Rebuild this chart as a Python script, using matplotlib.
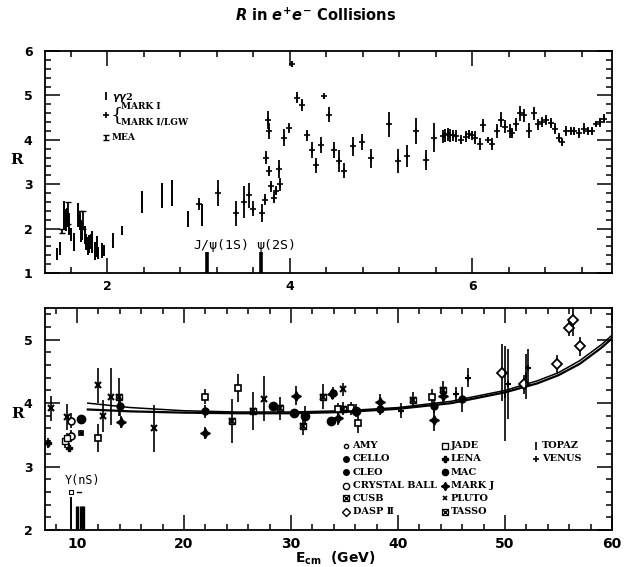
import matplotlib
matplotlib.use("Agg")
import matplotlib.pyplot as plt
from matplotlib.ticker import MultipleLocator, FixedLocator

plt.rcParams['font.weight'] = 'bold'
plt.rcParams['mathtext.fontset'] = 'custom'
plt.rcParams['mathtext.it'] = 'DejaVu Sans:italic:bold'
plt.rcParams['mathtext.rm'] = 'DejaVu Sans:bold'
plt.rcParams['mathtext.bf'] = 'DejaVu Sans:bold'

# ---------------- top panel data (E_cm in GeV, R, error) ----------------
gg2 = [(1.45, 1.43, 0.14), (1.48, 1.55, 0.15), (1.53, 2.30, 0.32), (1.55, 2.20, 0.25),
       (1.56, 2.25, 0.22), (1.58, 2.10, 0.25), (1.60, 1.90, 0.12), (1.61, 1.85, 0.12),
       (1.64, 1.70, 0.20), (1.68, 2.30, 0.27), (1.70, 2.15, 0.18), (1.71, 1.95, 0.25),
       (1.73, 1.95, 0.20), (1.76, 1.85, 0.20), (1.77, 1.70, 0.18), (1.79, 1.60, 0.20),
       (1.80, 1.65, 0.20), (1.82, 1.70, 0.17), (1.84, 1.70, 0.25), (1.87, 1.50, 0.20),
       (1.89, 1.60, 0.23), (1.90, 1.45, 0.13), (1.94, 1.50, 0.17), (1.97, 1.50, 0.12),
       (2.06, 1.73, 0.17), (2.16, 1.95, 0.10), (2.38, 2.60, 0.24), (2.60, 2.75, 0.28),
       (2.71, 2.80, 0.30), (2.89, 2.22, 0.18), (3.04, 2.30, 0.25)]
mea = [(1.51, 1.95, 0.05), (1.57, 2.35, 0.25), (1.70, 2.25, 0.15), (1.74, 2.20, 0.20)]
mark1 = [(3.01, 2.55, 0.13), (3.21, 2.80, 0.30), (3.41, 2.35, 0.28), (3.50, 2.60, 0.35),
         (3.55, 2.75, 0.28), (3.60, 2.45, 0.17), (3.70, 2.35, 0.20), (3.73, 2.65, 0.12),
         (3.74, 3.60, 0.15), (3.76, 4.45, 0.20), (3.77, 4.20, 0.18), (3.77, 3.30, 0.12),
         (3.80, 2.95, 0.12), (3.83, 2.70, 0.12), (3.85, 2.85, 0.10), (3.88, 3.35, 0.20),
         (3.89, 3.00, 0.15), (3.94, 4.05, 0.20), (3.99, 4.27, 0.12), (4.03, 5.70, 0.07),
         (4.08, 4.95, 0.13), (4.13, 4.78, 0.13), (4.19, 4.10, 0.13), (4.24, 3.77, 0.17),
         (4.29, 3.43, 0.17), (4.34, 3.88, 0.18), (4.38, 4.98, 0.05), (4.43, 4.57, 0.17),
         (4.49, 3.77, 0.17), (4.54, 3.52, 0.25), (4.59, 3.30, 0.17), (4.69, 3.85, 0.22),
         (4.79, 3.95, 0.17), (4.89, 3.58, 0.22), (5.09, 4.35, 0.28), (5.19, 3.52, 0.27),
         (5.29, 3.63, 0.25), (5.38, 4.20, 0.30), (5.49, 3.55, 0.23), (5.58, 4.05, 0.33),
         (5.68, 4.08, 0.15), (5.70, 4.10, 0.15), (5.73, 4.12, 0.15), (5.76, 4.10, 0.15),
         (5.79, 4.10, 0.13), (5.82, 4.08, 0.13), (5.88, 4.00, 0.10), (5.93, 4.07, 0.12),
         (5.97, 4.12, 0.10), (6.00, 4.10, 0.10), (6.03, 4.05, 0.15), (6.08, 3.90, 0.13),
         (6.12, 4.33, 0.15), (6.17, 4.00, 0.07), (6.22, 3.90, 0.13), (6.27, 4.20, 0.15),
         (6.32, 4.45, 0.17), (6.36, 4.30, 0.15), (6.41, 4.20, 0.15), (6.44, 4.15, 0.12),
         (6.48, 4.35, 0.15), (6.52, 4.60, 0.17), (6.57, 4.55, 0.15), (6.62, 4.20, 0.17),
         (6.68, 4.60, 0.15), (6.72, 4.35, 0.13), (6.76, 4.40, 0.12), (6.81, 4.45, 0.12),
         (6.86, 4.38, 0.12), (6.91, 4.25, 0.12), (6.95, 4.05, 0.10), (6.98, 3.95, 0.10),
         (7.03, 4.20, 0.12), (7.08, 4.20, 0.10), (7.12, 4.20, 0.10), (7.17, 4.15, 0.12),
         (7.22, 4.25, 0.12), (7.27, 4.20, 0.10), (7.31, 4.20, 0.10), (7.36, 4.35, 0.07),
         (7.40, 4.40, 0.10), (7.44, 4.48, 0.10)]
resonances_top = [("J/\u03c8(1S)", 3.097), ("\u03c8(2S)", 3.686)]

# ---------------- bottom panel data ----------------
amy = [(49.7, 4.48, 0.45), (51.8, 4.30, 0.15), (54.9, 4.61, 0.15), (56.0, 5.18, 0.12),
       (56.4, 5.31, 0.25), (57.0, 4.90, 0.15)]
cello = [(14.0, 3.95, 0.15), (22.0, 3.87, 0.10), (33.9, 4.16, 0.10), (38.3, 3.90, 0.08),
         (43.4, 3.95, 0.10), (46.0, 4.06, 0.20)]
cleo = [(10.35, 3.75, 0.05)]
crystal_ball = [(9.4, 3.72, 0.12), (9.4, 3.48, 0.10)]
cusb = [(10.4, 3.53, 0.04)]
dasp = [(8.85, 3.40, 0.10), (9.1, 3.45, 0.08)]
jade = [(12.0, 3.45, 0.22), (22.0, 4.10, 0.12), (25.0, 4.24, 0.22), (34.4, 3.90, 0.10),
        (35.6, 3.92, 0.10), (36.3, 3.68, 0.15), (43.2, 4.10, 0.12)]
lena = [(7.3, 3.37, 0.08), (9.2, 3.30, 0.07)]
mac = [(28.3, 3.95, 0.05), (30.3, 3.84, 0.07), (33.7, 3.72, 0.05), (36.1, 3.88, 0.10),
       (31.3, 3.80, 0.15)]
markj = [(14.1, 3.70, 0.10), (22.0, 3.53, 0.10), (30.5, 4.12, 0.15), (33.8, 4.14, 0.08),
         (34.4, 3.76, 0.10), (38.3, 4.02, 0.13), (43.4, 3.74, 0.18), (44.2, 4.12, 0.12)]
pluto = [(7.6, 3.92, 0.20), (9.1, 3.78, 0.20), (12.45, 3.80, 0.25), (13.15, 4.10, 0.45),
         (17.2, 3.60, 0.37), (27.5, 4.07, 0.35), (34.9, 4.22, 0.10), (12.0, 4.28, 0.28)]
tasso = [(13.9, 4.10, 0.30), (24.5, 3.72, 0.35), (26.4, 3.88, 0.30), (29.0, 3.92, 0.18),
         (31.1, 3.64, 0.15), (33.0, 4.10, 0.20), (34.9, 3.91, 0.10), (41.4, 4.05, 0.12),
         (44.2, 4.20, 0.15)]
topaz = [(50.0, 4.15, 0.75), (52.0, 4.42, 0.35)]
venus = [(40.3, 3.88, 0.12), (45.4, 4.14, 0.12), (46.5, 4.40, 0.15), (50.3, 4.30, 0.55),
         (52.2, 4.55, 0.30)]

# QCD + electroweak prediction band
curve_x = [11, 15, 20, 25, 30, 35, 40, 45, 50, 53, 55, 57, 59, 60]
curve_hi = [4.00, 3.93, 3.88, 3.86, 3.86, 3.88, 3.93, 4.03, 4.20, 4.35, 4.48, 4.67, 4.92, 5.07]
curve_lo = [3.90, 3.87, 3.85, 3.84, 3.84, 3.86, 3.91, 4.00, 4.17, 4.31, 4.44, 4.62, 4.87, 5.02]

upsilon_x = [9.46, 10.02, 10.36, 10.58]
upsilon_top = [2.52, 2.38, 2.38, 2.38]

legend_cols = [["AMY", "CELLO", "CLEO", "CRYSTAL BALL", "CUSB", "DASP \u2161"],
               ["JADE", "LENA", "MAC", "MARK J", "PLUTO", "TASSO"],
               ["TOPAZ", "VENUS"]]

# ---------------- figure ----------------
fig = plt.figure(figsize=(6.32, 5.67), dpi=100)
ax1 = fig.add_axes([0.0712, 0.5185, 0.897, 0.3915])
ax2 = fig.add_axes([0.0712, 0.0653, 0.897, 0.3915])

for ax in (ax1, ax2):
    ax.tick_params(which='both', direction='in', top=True, right=True, width=1.1,
                   labelsize=9)
    ax.tick_params(which='major', length=11)
    ax.tick_params(which='minor', length=4)
    ax.tick_params(axis='y', pad=9)
    ax.tick_params(axis='x', pad=5)
    for s in ax.spines.values():
        s.set_linewidth(1.3)


def unpack(d):
    return [p[0] for p in d], [p[1] for p in d], [p[2] for p in d]


# top panel
x, r, e = unpack(gg2)
ax1.errorbar(x, r, yerr=e, fmt='none', ecolor='black', elinewidth=1.4)
x, r, e = unpack(mea)
ax1.errorbar(x, r, yerr=e, fmt='none', ecolor='black', elinewidth=1.3, capsize=2, capthick=1)
x, r, e = unpack(mark1)
ax1.errorbar(x, r, yerr=e, fmt='+', color='black', ms=4, mew=1.2, elinewidth=1.3)

for name, xr in resonances_top:
    ax1.vlines(xr, 1.0, 1.47, color='black', lw=2.6)
ax1.text(3.25, 1.62, "J/\u03c8(1S)", family='DejaVu Sans Mono', fontsize=9.5,
         fontweight='normal', ha='center', va='center')
ax1.text(3.85, 1.62, "\u03c8(2S)", family='DejaVu Sans Mono', fontsize=9.5,
         fontweight='normal', ha='center', va='center')

# top legend
ax1.plot([1.99], [4.98], marker='|', color='black', ms=6, mew=1.3)
ax1.text(2.05, 4.96, r"$\gamma\gamma$2", fontsize=7, family='DejaVu Serif', va='center')
ax1.plot([1.99], [4.56], marker='+', color='black', ms=4, mew=1.2)
ax1.text(2.04, 4.56, "{", fontsize=14, family='DejaVu Serif', fontweight='normal',
         va='center', ha='left')
ax1.text(2.15, 4.75, "MARK I", fontsize=6.5, family='DejaVu Serif', va='center')
ax1.text(2.15, 4.41, "MARK I/LGW", fontsize=6.5, family='DejaVu Serif', va='center')
ax1.errorbar([1.99], [4.05], yerr=[0.05], fmt='none', ecolor='black', elinewidth=1.2,
             capsize=2, capthick=1)
ax1.text(2.05, 4.05, "MEA", fontsize=6.5, family='DejaVu Serif', va='center')

ax1.set_xlim(1.32, 7.53)
ax1.set_ylim(1, 6)
ax1.xaxis.set_major_locator(FixedLocator([2, 4, 6]))
ax1.xaxis.set_minor_locator(MultipleLocator(0.4))
ax1.yaxis.set_major_locator(MultipleLocator(1))
ax1.yaxis.set_minor_locator(MultipleLocator(0.2))

# bottom panel
ax2.plot(curve_x, curve_hi, color='black', lw=1.1)
ax2.plot(curve_x, curve_lo, color='black', lw=1.6)

tasso_style = [dict(marker='s', ms=5, mfc='none', mec='black', mew=1.0),
               dict(marker='x', ms=5, mew=1.3, color='black')]
styles = {
    'amy': (amy, [dict(marker='D', ms=5, mfc='white', mec='black', mew=1.3)]),
    'cello': (cello, [dict(marker='o', ms=5, mfc='black', mec='black')]),
    'cleo': (cleo, [dict(marker='o', ms=6, mfc='black', mec='black')]),
    'crystal': (crystal_ball, [dict(marker='o', ms=5, mfc='white', mec='black', mew=1.2)]),
    'cusb': (cusb, [dict(marker='s', ms=3.5, mfc='white', mec='black', mew=1.2),
                    dict(marker='x', ms=3.5, mew=1.0, color='black')]),
    'dasp': (dasp, [dict(marker='s', ms=4, mfc='white', mec='black', mew=1.0)]),
    'jade': (jade, [dict(marker='s', ms=5, mfc='white', mec='black', mew=1.2)]),
    'lena': (lena, [dict(marker='P', ms=5, mfc='black', mec='black')]),
    'mac': (mac, [dict(marker='o', ms=6, mfc='black', mec='black')]),
    'markj': (markj, [dict(marker=(4, 1, 0), ms=7, mfc='black', mec='black')]),
    'pluto': (pluto, [dict(marker='x', ms=4, mew=1.5, color='black')]),
    'tasso': (tasso, tasso_style),
    'topaz': (topaz, [dict(marker='|', ms=6, mew=1.5, color='black')]),
    'venus': (venus, [dict(marker='+', ms=5, mew=1.5, color='black')]),
}
for key, (d, sts) in styles.items():
    x, r, e = unpack(d)
    ax2.errorbar(x, r, yerr=e, fmt='none', ecolor='black', elinewidth=1.2)
    for st in sts:
        ax2.plot(x, r, linestyle='none', **st)

# Upsilon resonances
ax2.vlines(upsilon_x[0], 2.0, upsilon_top[0], color='black', lw=1.4)
ax2.vlines(upsilon_x[1:], 2.0, upsilon_top[1:], color='black', lw=2.4)
ax2.plot([9.42], [2.6], marker='s', ms=2.5, mfc='white', mec='black', mew=0.8)
ax2.plot([9.95, 10.35], [2.6, 2.6], color='black', lw=1)
ax2.text(8.8, 2.78, "\u03a5(nS)", family='DejaVu Sans Mono', fontsize=8.5,
         fontweight='normal', va='center')

# legend of experiments (manual)
leg_x_marker = [35.16, 44.36, 52.88]
leg_x_text = [35.75, 44.95, 53.45]
leg_rows = [3.33, 3.12, 2.91, 2.70, 2.50, 2.29]
small_tasso = [dict(marker='s', ms=4, mfc='none', mec='black', mew=0.9),
               dict(marker='x', ms=4, mew=1.0, color='black')]
leg_styles = [
    [[dict(marker='o', ms=3, mfc='white', mec='black', mew=1)],
     [dict(marker='o', ms=4, mfc='black', mec='black')],
     [dict(marker='o', ms=4, mfc='black', mec='black')],
     [dict(marker='o', ms=4.5, mfc='white', mec='black', mew=1)],
     small_tasso,
     [dict(marker='D', ms=4, mfc='white', mec='black', mew=1)]],
    [[dict(marker='s', ms=4, mfc='white', mec='black', mew=1)],
     [dict(marker='P', ms=5, mfc='black', mec='black')],
     [dict(marker='o', ms=4.5, mfc='black', mec='black')],
     [dict(marker=(4, 1, 0), ms=6, mfc='black', mec='black')],
     [dict(marker='x', ms=3.5, mew=1.2, color='black')],
     small_tasso],
    [[dict(marker='|', ms=6, mew=1.2, color='black')],
     [dict(marker='+', ms=4, mew=1.2, color='black')]],
]
for ci, col in enumerate(legend_cols):
    for ri, lab in enumerate(col):
        for st in leg_styles[ci][ri]:
            ax2.plot([leg_x_marker[ci]], [leg_rows[ri]], linestyle='none', **st)
        ax2.text(leg_x_text[ci], leg_rows[ri], lab, fontsize=7, family='DejaVu Serif',
                 va='center', ha='left')

ax2.set_xlim(7, 60)
ax2.set_ylim(2, 5.5)
ax2.xaxis.set_major_locator(MultipleLocator(10))
ax2.xaxis.set_minor_locator(MultipleLocator(2))
ax2.yaxis.set_major_locator(MultipleLocator(1))
ax2.yaxis.set_minor_locator(MultipleLocator(0.2))
ax2.tick_params(axis='x', labelsize=10)

# labels
fig.text(0.5, 1 - 15 / 567, r"$R$ in $e^{+}e^{-}$ Collisions", ha='center', va='center',
         fontsize=10.5, fontweight='bold')
fig.text(17 / 632, 1 - 160 / 567, "R", family='DejaVu Serif', fontsize=11,
         ha='center', va='center')
fig.text(18 / 632, 1 - 414 / 567, "R", family='DejaVu Serif', fontsize=11,
         ha='center', va='center')
fig.text(335 / 632, 1 - 558 / 567, r"E$_{\rm cm}$  (GeV)", fontsize=10,
         ha='center', va='center')

fig.savefig("out.png", dpi=100)
